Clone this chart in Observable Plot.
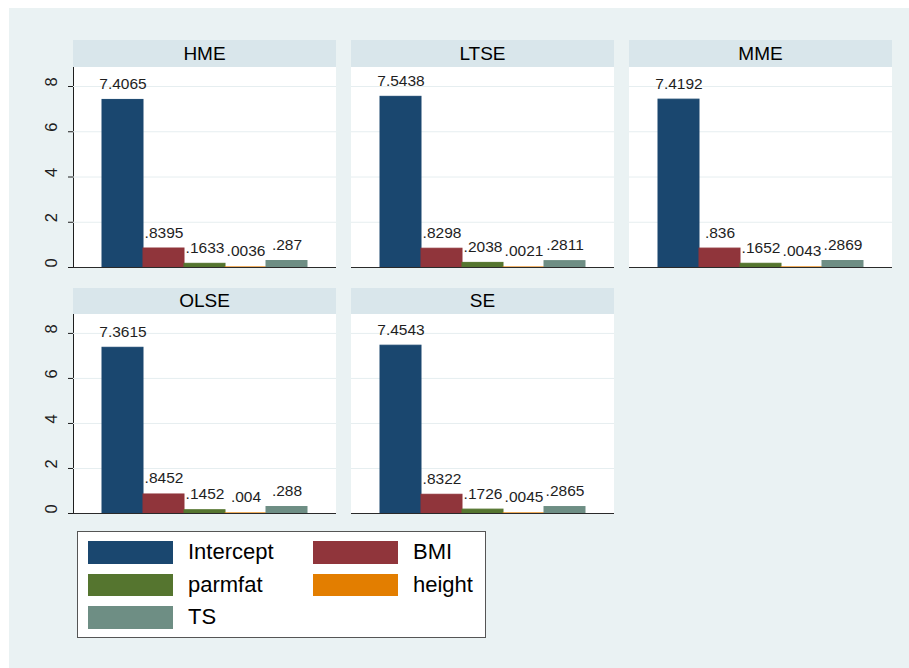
<!DOCTYPE html>
<html>
<head>
<meta charset="utf-8">
<script src="https://cdn.jsdelivr.net/npm/d3@7"></script>
<script src="https://cdn.jsdelivr.net/npm/@observablehq/plot@0.6"></script>
<style>
  body { margin: 0; background: #ffffff; font-family: "Liberation Sans", Arial, sans-serif; }
  #graph { position: absolute; left: 9px; top: 8px; width: 900px; height: 660px; background: #eaf2f3; }
  .strip { position: absolute; background: #d9e6eb; color: #000; font-size: 19px; text-align: center; box-sizing: border-box; }
  .plotbg { position: absolute; background: #ffffff; }
  .panel { position: absolute; }
  .panel svg { overflow: visible; display: block; }
  #legend { position: absolute; background: #ffffff; border: 1px solid #555; box-sizing: border-box; }
  .key { position: absolute; }
  .label { position: absolute; font-size: 22px; color: #000; white-space: nowrap; }
</style>
</head>
<body>
<div id="graph"></div>
<script>
// Estimated coefficients for each estimator
const estimators = ["HME", "LTSE", "MME", "OLSE", "SE"];
const series = ["Intercept", "BMI", "parmfat", "height", "TS"];
const intercept = [7.4065, 7.5438, 7.4192, 7.3615, 7.4543];
const bmi = [0.8395, 0.8298, 0.836, 0.8452, 0.8322];
const parmfat = [0.1633, 0.2038, 0.1652, 0.1452, 0.1726];
const height = [0.0036, 0.0021, 0.0043, 0.004, 0.0045];
const ts = [0.287, 0.2811, 0.2869, 0.288, 0.2865];
const yTicks = [0, 2, 4, 6, 8];
const seriesColors = ["#1a476f", "#90353b", "#55752f", "#e37e00", "#6e8e84"];

const valuesBySeries = [intercept, bmi, parmfat, height, ts];
const rows = estimators.flatMap((est, i) =>
  series.map((s, j) => ({estimator: est, series: s, value: valuesBySeries[j][i]}))
);

// Stata-style number labels: drop the leading zero
const fmt = v => String(v).replace(/^0\./, ".");

// Panel grid geometry
const colLeft = [73, 351, 629];
const rowTop = [40, 288];
const stripHeights = [27, 26];
const plotHeights = [200, 199];
const panelWidth = 263;
const fontFamily = "'Liberation Sans', Arial, sans-serif";

function place(el, cls, left, top, width, height) {
  el.className = cls;
  Object.assign(el.style, {left: left + "px", top: top + "px"});
  if (width != null) el.style.width = width + "px";
  if (height != null) el.style.height = height + "px";
  document.body.appendChild(el);
  return el;
}

estimators.forEach((est, i) => {
  const col = i % 3, row = Math.floor(i / 3);
  const left = colLeft[col], top = rowTop[row];
  const stripHeight = stripHeights[row], plotHeight = plotHeights[row];
  const first = col === 0;

  const strip = place(document.createElement("div"), "strip", left, top, panelWidth, stripHeight);
  strip.style.lineHeight = stripHeight + "px";
  strip.textContent = est;

  // white plot region behind the chart
  place(document.createElement("div"), "plotbg", left, top + stripHeight, panelWidth, plotHeight);

  const data = rows.filter(d => d.estimator === est);
  const mL = first ? 40 : 1, mR = 1, mT = 2, mB = 2;

  const chart = Plot.plot({
    width: panelWidth + mL + mR,
    height: plotHeight + mT + mB,
    marginLeft: mL, marginRight: mR, marginTop: mT, marginBottom: mB,
    style: {background: "transparent", fontFamily, fontSize: "16px", color: "#1e1e1e", overflow: "visible"},
    x: {domain: series, paddingInner: 0, paddingOuter: 0.675, axis: null},
    y: first
      ? {domain: [0, 8.84], axis: "left", ticks: yTicks, tickSize: 5, tickFormat: () => "", label: null, line: true, grid: false}
      : {domain: [0, 8.84], axis: null},
    color: {domain: series, range: seriesColors},
    marks: [
      Plot.ruleY(yTicks.filter(t => t > 0), {stroke: "#e6eef0", strokeWidth: 1}),
      Plot.barY(data, {x: "series", y: "value", fill: "series", stroke: "series", strokeWidth: 1}),
      Plot.ruleY([0], {stroke: "#2a2a2a", strokeWidth: 1}),
      first
        ? Plot.text(yTicks, {y: d => d, text: d => String(d), frameAnchor: "left", dx: -21.5, rotate: -90, fontSize: 16.5, fill: "#1e1e1e"})
        : null,
      Plot.text(data, {x: "series", y: "value", text: d => fmt(d.value), dy: -11, lineAnchor: "bottom", fontSize: 15.5, fill: "#1e1e1e"})
    ]
  });

  const holder = place(document.createElement("div"), "panel", left - mL, top + stripHeight - mT);
  holder.appendChild(chart);
});

// Legend: two columns of colour keys
const legend = place(document.createElement("div"), "", 77, 531, 409, 107);
legend.id = "legend";
series.forEach((s, j) => {
  const c = j % 2, r = Math.floor(j / 2);
  const key = document.createElement("div");
  key.className = "key";
  Object.assign(key.style, {
    left: (c === 0 ? 10 : 235) + "px", top: (9 + r * 32.5) + "px",
    width: "85px", height: "22.5px", background: seriesColors[j]
  });
  const lab = document.createElement("div");
  lab.className = "label";
  Object.assign(lab.style, {
    left: (c === 0 ? 110 : 335) + "px", top: (9 + r * 32.5) + "px",
    height: "22.5px", lineHeight: "22.5px"
  });
  lab.textContent = s;
  legend.appendChild(key);
  legend.appendChild(lab);
});
</script>
</body>
</html>
